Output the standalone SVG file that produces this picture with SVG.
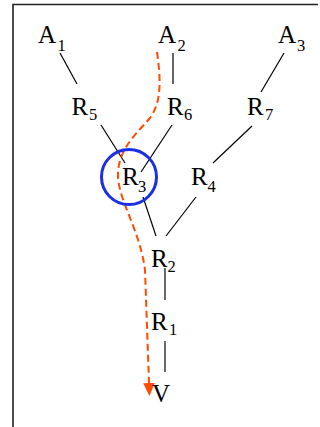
<svg xmlns="http://www.w3.org/2000/svg" width="320" height="427" viewBox="0 0 320 427">
  <style>
    .lbl { font-family: "Liberation Serif", "Times New Roman", serif; font-size: 25px; fill: #000; }
    .sub { font-size: 16.5px; }
    .edge { stroke: #000; stroke-width: 1.2; fill: none; }
    .edge2 { stroke: #444; stroke-width: 1.6; fill: none; }
    .frame { stroke: #222; stroke-width: 1.6; fill: none; }
    .path { stroke: #ff4a00; stroke-width: 2; fill: none; stroke-dasharray: 7 4; }
  </style>
  <defs>
    <marker id="arr" viewBox="0 -6 13 12" markerWidth="13" markerHeight="12" refX="0" refY="0" orient="auto" markerUnits="userSpaceOnUse">
      <path d="M0,-5.8 L13,0 L0,5.8 z" fill="#ff4a00"/>
    </marker>
  </defs>
  <path class="frame" d="M13,427 L13,4.5 L318,4.5"/>
  <g id="connectors">
    <line class="edge" x1="60" y1="53" x2="77" y2="84"/>
    <line class="edge" x1="173" y1="53" x2="173" y2="84"/>
    <line class="edge" x1="284" y1="53" x2="261" y2="92"/>
    <line class="edge" x1="101" y1="125" x2="125" y2="163"/>
    <line class="edge" x1="172" y1="125" x2="141" y2="172"/>
    <line class="edge" x1="252" y1="126" x2="213" y2="163"/>
    <line class="edge" x1="143" y1="197" x2="156" y2="236"/>
    <line class="edge" x1="196" y1="197" x2="166" y2="236"/>
    <line class="edge2" x1="165" y1="268" x2="165" y2="300"/>
    <line class="edge2" x1="165" y1="341" x2="165" y2="372"/>
    <path class="path" marker-end="url(#arr)" d="M157,52 C160,75 163,100 150,118 C135,135 118,150 118,175 C118,200 140,230 145,270 L149,383"/>
  </g>
  <g id="A1"><text class="lbl"><tspan x="38" y="43">A</tspan><tspan class="sub" x="57.5" y="50.5">1</tspan></text></g>
  <g id="A2"><text class="lbl"><tspan x="158" y="43">A</tspan><tspan class="sub" x="177.5" y="50.5">2</tspan></text></g>
  <g id="A3"><text class="lbl"><tspan x="278" y="43">A</tspan><tspan class="sub" x="297" y="50.5">3</tspan></text></g>
  <g id="R5"><text class="lbl"><tspan x="71.5" y="115">R</tspan><tspan class="sub" x="89" y="120">5</tspan></text></g>
  <g id="R6"><text class="lbl"><tspan x="167" y="115">R</tspan><tspan class="sub" x="184" y="120">6</tspan></text></g>
  <g id="R7"><text class="lbl"><tspan x="247" y="115">R</tspan><tspan class="sub" x="265" y="120">7</tspan></text></g>
  <g id="R3">
    <circle cx="129" cy="177" r="27.5" fill="none" stroke="#1a2fe6" stroke-width="3"/>
    <text class="lbl"><tspan x="122" y="185">R</tspan><tspan class="sub" x="138" y="192">3</tspan></text>
  </g>
  <g id="R4"><text class="lbl"><tspan x="191" y="185">R</tspan><tspan class="sub" x="207.5" y="192">4</tspan></text></g>
  <g id="R2"><text class="lbl"><tspan x="151" y="267">R</tspan><tspan class="sub" x="167.5" y="272">2</tspan></text></g>
  <g id="R1"><text class="lbl"><tspan x="151" y="330">R</tspan><tspan class="sub" x="169" y="335">1</tspan></text></g>
  <g id="V"><text class="lbl" x="152" y="402">V</text></g>
</svg>
